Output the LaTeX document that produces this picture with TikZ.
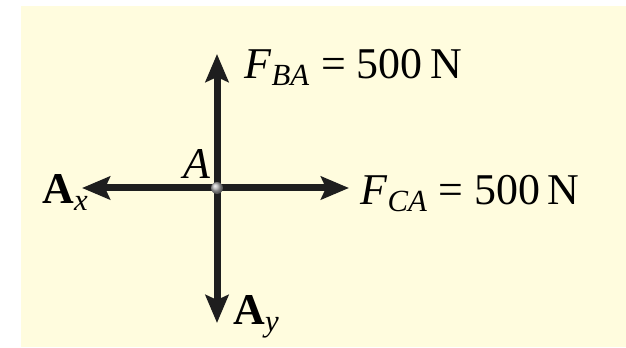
\documentclass[tikz,border=0pt]{standalone}
\usepackage{fontspec}
\setmainfont{Liberation Serif}
\usetikzlibrary{arrows.meta, positioning, shadings}
\definecolor{BG}{RGB}{255,252,222}
\definecolor{DG}{RGB}{30,30,30}

\tikzset{
  force/.style={DG, line width=0.14cm,
    -{Stealth[length=0.56cm, width=0.46cm, inset=0.1cm]}},
  label/.style={inner sep=0pt, anchor=base west, font=\fontsize{25}{29}\selectfont},
  joint/.style={circle, inner sep=0pt, minimum size=0.24cm, ball color=gray!60}
}

\begin{document}
\begin{tikzpicture}[x=0.02cm, y=0.02cm]
\useasboundingbox (0,0) rectangle (626,348);
\fill[BG] (21,1) rectangle (626,342);

% joint and force tips
\coordinate (A) at (217,160);
\coordinate (tipBA) at (217,294);
\coordinate (tipCA) at (349,160);
\coordinate (tipAx) at (82,160);
\coordinate (tipAy) at (217,25);

\draw[force] (A) -- (tipBA);
\draw[force] (A) -- (tipCA);
\draw[force] (A) -- (tipAx);
\draw[force] (A) -- (tipAy);
\node[joint] (J) at (A) {};

% labels
\node[label] (lA)  at (183,169) {\textit{A}};
\node[label] (lBA) at (244,269) {\textit{F}\textsubscript{\textit{BA}} = 500\,N};
\node[label] (lCA) at (360,143) {\textit{F}\textsubscript{\textit{CA}} = 500\,N};
\node[label] (lAx) at (42,144)  {\textbf{A}\textsubscript{\textit{x}}};
\node[label] (lAy) at (233,23)  {\textbf{A}\textsubscript{\textit{y}}};
\end{tikzpicture}
\end{document}
